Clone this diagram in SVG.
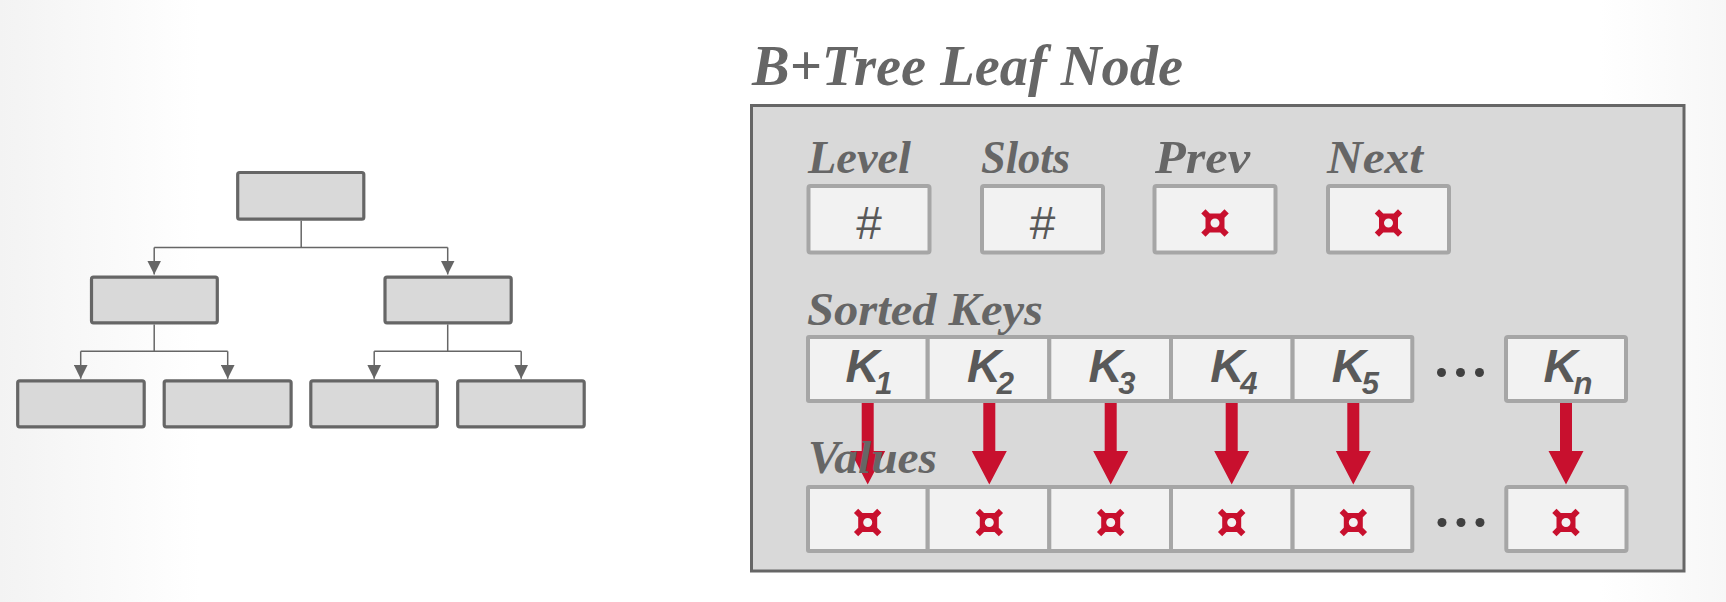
<svg xmlns="http://www.w3.org/2000/svg" width="1726" height="602" viewBox="0 0 1726 602">
  <defs>
    <linearGradient id="bgL" x1="0" y1="0" x2="1" y2="0">
      <stop offset="0" stop-color="#f3f3f3"/>
      <stop offset="1" stop-color="#ffffff"/>
    </linearGradient>
    <linearGradient id="bgR" x1="0" y1="0" x2="1" y2="0">
      <stop offset="0" stop-color="#ffffff"/>
      <stop offset="1" stop-color="#f7f7f7"/>
    </linearGradient>
    <marker id="ah" viewBox="0 -7 14 14" refX="14" refY="0" markerWidth="14" markerHeight="14" markerUnits="userSpaceOnUse" orient="auto">
      <path d="M0,-7 L14,0 L0,7 z" fill="#666666"/>
    </marker>
    <path id="redArrow" d="M-6,0 L6,0 L6,48 L17.5,48 L0,81.5 L-17.5,48 L-6,48 z" fill="#c8102e"/>
    <g id="ptr" fill="#c8102e">
      <path d="M-9.5,-9.5 H9.5 V9.5 H-9.5 z M0,-4.5 A4.5,4.5 0 1,0 0,4.5 A4.5,4.5 0 1,0 0,-4.5 z" fill-rule="evenodd"/>
      <rect x="-3" y="-3" width="6" height="6" transform="translate(-9.5,-9.5) rotate(45)"/>
      <rect x="-3" y="-3" width="6" height="6" transform="translate(9.5,-9.5) rotate(45)"/>
      <rect x="-3" y="-3" width="6" height="6" transform="translate(-9.5,9.5) rotate(45)"/>
      <rect x="-3" y="-3" width="6" height="6" transform="translate(9.5,9.5) rotate(45)"/>
    </g>
  </defs>
  <style>
    .tnode { fill: #d9d9d9; stroke: #666666; stroke-width: 3.2; }
    .tline { fill: none; stroke: #666666; stroke-width: 1.5; }
    .panel { fill: #d9d9d9; stroke: #666666; stroke-width: 3; }
    .cell { fill: #f2f2f2; stroke: #a6a6a6; stroke-width: 4; }
    .title { font-family: "Liberation Serif", serif; font-weight: bold; font-style: italic; fill: #666666; }
    .lbl { font-family: "Liberation Serif", serif; font-weight: bold; font-style: italic; font-size: 46px; fill: #666666; }
    .hash { font-family: "Liberation Sans", Arial, sans-serif; font-size: 46px; fill: #595959; text-anchor: middle; }
    .key { font-family: "Liberation Sans", Arial, sans-serif; font-weight: bold; font-style: italic; font-size: 47px; fill: #595959; text-anchor: middle; }
    .sub { font-size: 31px; }
    .dot { fill: #404040; }
  </style>

  <rect x="0" y="0" width="1726" height="602" fill="#ffffff"/>
  <rect x="0" y="0" width="200" height="602" fill="url(#bgL)"/>
  <rect x="1600" y="0" width="126" height="602" fill="url(#bgR)"/>

  <!-- Tree on the left -->
  <g id="tree-root"><rect class="tnode" x="237.7" y="172.5" width="126.1" height="46.7" rx="2"/></g>
  <g id="tree-mid-left"><rect class="tnode" x="91.5" y="277.2" width="125.8" height="45.6" rx="2"/></g>
  <g id="tree-mid-right"><rect class="tnode" x="385" y="277.2" width="126.2" height="45.6" rx="2"/></g>
  <g id="tree-leaf-1"><rect class="tnode" x="17.7" y="380.8" width="126.5" height="46" rx="2"/></g>
  <g id="tree-leaf-2"><rect class="tnode" x="164.2" y="380.8" width="126.9" height="46" rx="2"/></g>
  <g id="tree-leaf-3"><rect class="tnode" x="310.8" y="380.8" width="126.5" height="46" rx="2"/></g>
  <g id="tree-leaf-4"><rect class="tnode" x="457.7" y="380.8" width="126.5" height="46" rx="2"/></g>

  <g id="tree-connectors">
    <path class="tline" d="M301.2,220.8 V247.5"/>
    <path class="tline" d="M154.2,247.5 H447.7"/>
    <path class="tline" d="M154.2,247.5 V274.5" marker-end="url(#ah)"/>
    <path class="tline" d="M447.7,247.5 V274.5" marker-end="url(#ah)"/>
    <path class="tline" d="M154.2,324.4 V351.3"/>
    <path class="tline" d="M80.7,351.3 H227.7"/>
    <path class="tline" d="M80.7,351.3 V378.7" marker-end="url(#ah)"/>
    <path class="tline" d="M227.7,351.3 V378.7" marker-end="url(#ah)"/>
    <path class="tline" d="M447.7,324.4 V351.3"/>
    <path class="tline" d="M374.2,351.3 H521.2"/>
    <path class="tline" d="M374.2,351.3 V378.7" marker-end="url(#ah)"/>
    <path class="tline" d="M521.2,351.3 V378.7" marker-end="url(#ah)"/>
  </g>

  <!-- Leaf node detail -->
  <g id="title">
    <text class="title" x="752" y="85" font-size="58" textLength="431" lengthAdjust="spacingAndGlyphs">B+Tree Leaf Node</text>
  </g>

  <g id="leaf-panel">
    <rect class="panel" x="751.5" y="105.5" width="932.5" height="465.5"/>
  </g>

  <g id="header-level">
    <text class="lbl" x="808" y="172.5" textLength="103" lengthAdjust="spacingAndGlyphs">Level</text>
    <rect class="cell" x="808.5" y="186" width="121" height="66.5" rx="2"/>
    <text class="hash" x="869" y="239">#</text>
  </g>
  <g id="header-slots">
    <text class="lbl" x="981" y="172.5" textLength="89" lengthAdjust="spacingAndGlyphs">Slots</text>
    <rect class="cell" x="982" y="186" width="121" height="66.5" rx="2"/>
    <text class="hash" x="1042.5" y="239">#</text>
  </g>
  <g id="header-prev">
    <text class="lbl" x="1155" y="172.5" textLength="95" lengthAdjust="spacingAndGlyphs">Prev</text>
    <rect class="cell" x="1154.5" y="186" width="121" height="66.5" rx="2"/>
    <use href="#ptr" x="1215" y="223"/>
  </g>
  <g id="header-next">
    <text class="lbl" x="1327" y="172.5" textLength="96" lengthAdjust="spacingAndGlyphs">Next</text>
    <rect class="cell" x="1328" y="186" width="121" height="66.5" rx="2"/>
    <use href="#ptr" x="1388.5" y="223"/>
  </g>

  <g id="sorted-keys">
    <text class="lbl" x="807" y="325" textLength="236" lengthAdjust="spacingAndGlyphs">Sorted Keys</text>
    <rect class="cell" x="808" y="337" width="119.7" height="64" rx="1"/>
    <rect class="cell" x="927.7" y="337" width="121.6" height="64"/>
    <rect class="cell" x="1049.3" y="337" width="121.7" height="64"/>
    <rect class="cell" x="1171" y="337" width="121.6" height="64"/>
    <rect class="cell" x="1292.6" y="337" width="119.7" height="64" rx="1"/>
    <rect class="cell" x="1506" y="337" width="120" height="64" rx="2"/>
    <text class="key" x="869" y="382">K<tspan class="sub" dx="-4" dy="12">1</tspan></text>
    <text class="key" x="990.5" y="382">K<tspan class="sub" dx="-4" dy="12">2</tspan></text>
    <text class="key" x="1112" y="382">K<tspan class="sub" dx="-4" dy="12">3</tspan></text>
    <text class="key" x="1233.8" y="382">K<tspan class="sub" dx="-4" dy="12">4</tspan></text>
    <text class="key" x="1355.4" y="382">K<tspan class="sub" dx="-4" dy="12">5</tspan></text>
    <text class="key" x="1568" y="382">K<tspan class="sub" dx="-4" dy="12">n</tspan></text>
    <circle class="dot" cx="1441.5" cy="372.5" r="4.5"/>
    <circle class="dot" cx="1460.5" cy="372.5" r="4.5"/>
    <circle class="dot" cx="1479.5" cy="372.5" r="4.5"/>
  </g>

  <g id="key-value-connectors">
    <use href="#redArrow" x="867.7" y="403"/>
    <use href="#redArrow" x="989.3" y="403"/>
    <use href="#redArrow" x="1110.7" y="403"/>
    <use href="#redArrow" x="1231.7" y="403"/>
    <use href="#redArrow" x="1353.3" y="403"/>
    <use href="#redArrow" x="1566" y="403"/>
  </g>

  <g id="values">
    <text class="lbl" x="808" y="473" textLength="129" lengthAdjust="spacingAndGlyphs">Values</text>
    <rect class="cell" x="808" y="487" width="119.7" height="64" rx="1"/>
    <rect class="cell" x="927.7" y="487" width="121.6" height="64"/>
    <rect class="cell" x="1049.3" y="487" width="121.7" height="64"/>
    <rect class="cell" x="1171" y="487" width="121.6" height="64"/>
    <rect class="cell" x="1292.6" y="487" width="119.7" height="64" rx="1"/>
    <rect class="cell" x="1506.3" y="487" width="120.2" height="64" rx="2"/>
    <use href="#ptr" x="867.7" y="522.5"/>
    <use href="#ptr" x="989.3" y="522.5"/>
    <use href="#ptr" x="1110.7" y="522.5"/>
    <use href="#ptr" x="1231.7" y="522.5"/>
    <use href="#ptr" x="1353.3" y="522.5"/>
    <use href="#ptr" x="1566" y="522.5"/>
    <circle class="dot" cx="1442" cy="522.5" r="4.5"/>
    <circle class="dot" cx="1461" cy="522.5" r="4.5"/>
    <circle class="dot" cx="1480" cy="522.5" r="4.5"/>
  </g>
</svg>
